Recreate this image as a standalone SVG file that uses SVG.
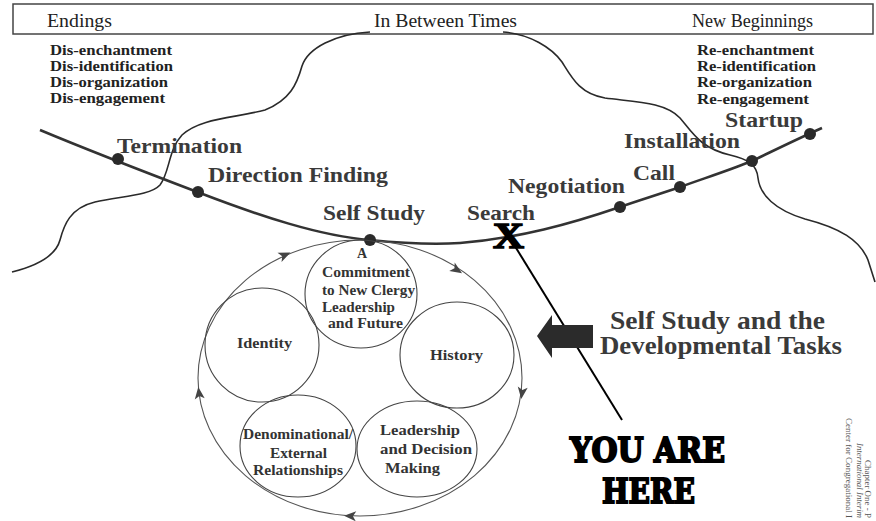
<svg xmlns="http://www.w3.org/2000/svg" xmlns:xlink="http://www.w3.org/1999/xlink" width="876" height="521" viewBox="0 0 876 521">
<style>
  text { font-family: "Liberation Serif", "Times New Roman", serif; }
  .hdr { font-size: 19px; fill: #222; }
  .lst { font-size: 15px; font-weight: bold; fill: #222; }
  .stg { font-size: 22px; font-weight: bold; fill: #3a3a3a; }
  .task { font-size: 14px; font-weight: bold; fill: #333; }
  .ttl { font-size: 25px; font-weight: bold; fill: #3a3a3a; }
  .here { font-family: "DejaVu Serif", "Liberation Serif", serif; font-size: 34px; font-weight: bold; fill: #000; stroke: #000; stroke-width: 2px; }
  .foot { font-size: 9px; fill: #555; }
  .cloud { fill: none; stroke: #2a2a2a; stroke-width: 1.6; }
  .path { fill: none; stroke: #333; stroke-width: 2.6; }
  .dot { fill: #2a2a2a; }
  .ring { fill: none; stroke: #555; stroke-width: 1.1; }
  .circ { fill: none; stroke: #444; stroke-width: 1.1; }
</style>
<defs>
  <path id="ah" d="M6,0 L-6,-5 L-3,0 L-6,5 Z" fill="#444"/>
</defs>

<g id="header">
  <rect x="13" y="4" width="860" height="30" fill="none" stroke="#444" stroke-width="1.5"/>
  <text class="hdr" x="47" y="27" textLength="65" lengthAdjust="spacingAndGlyphs">Endings</text>
  <text class="hdr" x="374" y="27" textLength="143" lengthAdjust="spacingAndGlyphs">In Between Times</text>
  <text class="hdr" x="692" y="27" textLength="121" lengthAdjust="spacingAndGlyphs">New Beginnings</text>
</g>

<g id="endings-list">
  <text class="lst" x="50" y="55" textLength="122" lengthAdjust="spacingAndGlyphs">Dis-enchantment</text>
  <text class="lst" x="50" y="71" textLength="123" lengthAdjust="spacingAndGlyphs">Dis-identification</text>
  <text class="lst" x="50" y="87" textLength="118" lengthAdjust="spacingAndGlyphs">Dis-organization</text>
  <text class="lst" x="50" y="103" textLength="115" lengthAdjust="spacingAndGlyphs">Dis-engagement</text>
</g>

<g id="beginnings-list">
  <text class="lst" x="697" y="55" textLength="117" lengthAdjust="spacingAndGlyphs">Re-enchantment</text>
  <text class="lst" x="697" y="71" textLength="119" lengthAdjust="spacingAndGlyphs">Re-identification</text>
  <text class="lst" x="697" y="87" textLength="115" lengthAdjust="spacingAndGlyphs">Re-organization</text>
  <text class="lst" x="697" y="104" textLength="112" lengthAdjust="spacingAndGlyphs">Re-engagement</text>
</g>

<g id="connectors">
  <path class="cloud" d="M370,32 C335,34 308,48 302,66 C297,84 290,100 265,110 C235,118 200,118 182,135 C168,150 170,172 160,185 C150,196 120,196 95,202 C70,208 64,225 60,240 C56,255 40,265 12,272"/>
  <path class="cloud" d="M503,32 C530,34 552,48 562,62 C572,78 580,94 605,98 C635,102 665,102 680,118 C692,132 700,148 730,155 C748,159 757,165 758,178 C760,195 775,210 805,219 C840,228 860,240 868,260 L875,282"/>
  <path class="path" d="M40,130 C95,153 150,174 200,193 C260,216 320,236 370,240 C400,243 430,245 460,243 C520,238 570,224 620,207 C640,200 660,194 680,187 C705,178 730,170 752,161 C775,150 795,140 822,128"/>
  <ellipse class="ring" cx="360" cy="378" rx="162" ry="138"/>
  <use href="#ah" transform="translate(285,255) rotate(-24)"/>
  <use href="#ah" transform="translate(457,270) rotate(33)"/>
  <use href="#ah" transform="translate(522,393) rotate(97)"/>
  <use href="#ah" transform="translate(350,516) rotate(183)"/>
  <use href="#ah" transform="translate(199,393) rotate(-97)"/>
  <line x1="505" y1="230" x2="622" y2="420" stroke="#000" stroke-width="2"/>
  <polygon points="537,336 552,315 552,325 593,325 593,348 552,348 552,358" fill="#2b2b2b"/>
</g>

<g id="stage-termination">
  <circle class="dot" cx="118" cy="159" r="6"/>
  <text class="stg" x="117" y="153" textLength="125" lengthAdjust="spacingAndGlyphs">Termination</text>
</g>
<g id="stage-direction">
  <circle class="dot" cx="198" cy="192" r="6"/>
  <text class="stg" x="208" y="182" textLength="180" lengthAdjust="spacingAndGlyphs">Direction Finding</text>
</g>
<g id="stage-selfstudy">
  <circle class="dot" cx="370" cy="240" r="6"/>
  <text class="stg" x="323" y="220" textLength="102" lengthAdjust="spacingAndGlyphs">Self Study</text>
</g>
<g id="stage-search">
  <text class="stg" x="467" y="220" textLength="68" lengthAdjust="spacingAndGlyphs">Search</text>
  <text x="493" y="248" font-size="36" font-weight="bold" fill="#000" stroke="#000" stroke-width="1.5" textLength="31" lengthAdjust="spacingAndGlyphs">X</text>
</g>
<g id="stage-negotiation">
  <circle class="dot" cx="620" cy="207" r="6"/>
  <text class="stg" x="508" y="193" textLength="117" lengthAdjust="spacingAndGlyphs">Negotiation</text>
</g>
<g id="stage-call">
  <circle class="dot" cx="680" cy="187" r="6"/>
  <text class="stg" x="633" y="180" textLength="42" lengthAdjust="spacingAndGlyphs">Call</text>
</g>
<g id="stage-installation">
  <circle class="dot" cx="752" cy="161" r="6"/>
  <text class="stg" x="624" y="148" textLength="116" lengthAdjust="spacingAndGlyphs">Installation</text>
</g>
<g id="stage-startup">
  <circle class="dot" cx="810" cy="134" r="6"/>
  <text class="stg" x="725" y="127" textLength="78" lengthAdjust="spacingAndGlyphs">Startup</text>
</g>

<g id="task-commitment">
  <ellipse class="circ" cx="361" cy="294" rx="56" ry="54"/>
  <text class="task" x="362" y="258" text-anchor="middle">A</text>
  <text class="task" x="322" y="277" textLength="88" lengthAdjust="spacingAndGlyphs">Commitment</text>
  <text class="task" x="322" y="295" textLength="93" lengthAdjust="spacingAndGlyphs">to New Clergy</text>
  <text class="task" x="322" y="312" textLength="73" lengthAdjust="spacingAndGlyphs">Leadership</text>
  <text class="task" x="328" y="328" textLength="75" lengthAdjust="spacingAndGlyphs">and Future</text>
</g>
<g id="task-identity">
  <ellipse class="circ" cx="262" cy="345" rx="57" ry="57"/>
  <text class="task" x="237" y="348" textLength="55" lengthAdjust="spacingAndGlyphs">Identity</text>
</g>
<g id="task-history">
  <ellipse class="circ" cx="457" cy="355" rx="57" ry="53"/>
  <text class="task" x="430" y="360" textLength="53" lengthAdjust="spacingAndGlyphs">History</text>
</g>
<g id="task-denominational">
  <ellipse class="circ" cx="298" cy="446" rx="58" ry="51"/>
  <text class="task" x="243" y="439" textLength="110" lengthAdjust="spacingAndGlyphs">Denominational/</text>
  <text class="task" x="270" y="458" textLength="57" lengthAdjust="spacingAndGlyphs">External</text>
  <text class="task" x="253" y="475" textLength="90" lengthAdjust="spacingAndGlyphs">Relationships</text>
</g>
<g id="task-leadership">
  <ellipse class="circ" cx="417" cy="449" rx="60" ry="48"/>
  <text class="task" x="380" y="435" textLength="80" lengthAdjust="spacingAndGlyphs">Leadership</text>
  <text class="task" x="380" y="454" textLength="92" lengthAdjust="spacingAndGlyphs">and Decision</text>
  <text class="task" x="385" y="473" textLength="55" lengthAdjust="spacingAndGlyphs">Making</text>
</g>

<g id="title">
  <text class="ttl" x="610" y="329" textLength="215" lengthAdjust="spacingAndGlyphs">Self Study and the</text>
  <text class="ttl" x="600" y="354" textLength="242" lengthAdjust="spacingAndGlyphs">Developmental Tasks</text>
</g>

<g id="you-are-here">
  <text class="here" x="570" y="462" textLength="155" lengthAdjust="spacingAndGlyphs">YOU ARE</text>
  <text class="here" x="602" y="503" textLength="93" lengthAdjust="spacingAndGlyphs">HERE</text>
</g>

<g id="footer">
  <text class="foot" transform="translate(846,418) rotate(90)" textLength="100" lengthAdjust="spacingAndGlyphs">Center for Congregational I</text>
  <text class="foot" transform="translate(857,443) rotate(90)" font-style="italic" textLength="75" lengthAdjust="spacingAndGlyphs">International Interim</text>
  <text class="foot" transform="translate(865,460) rotate(90)" textLength="58" lengthAdjust="spacingAndGlyphs">Chapter One - P</text>
</g>
</svg>
